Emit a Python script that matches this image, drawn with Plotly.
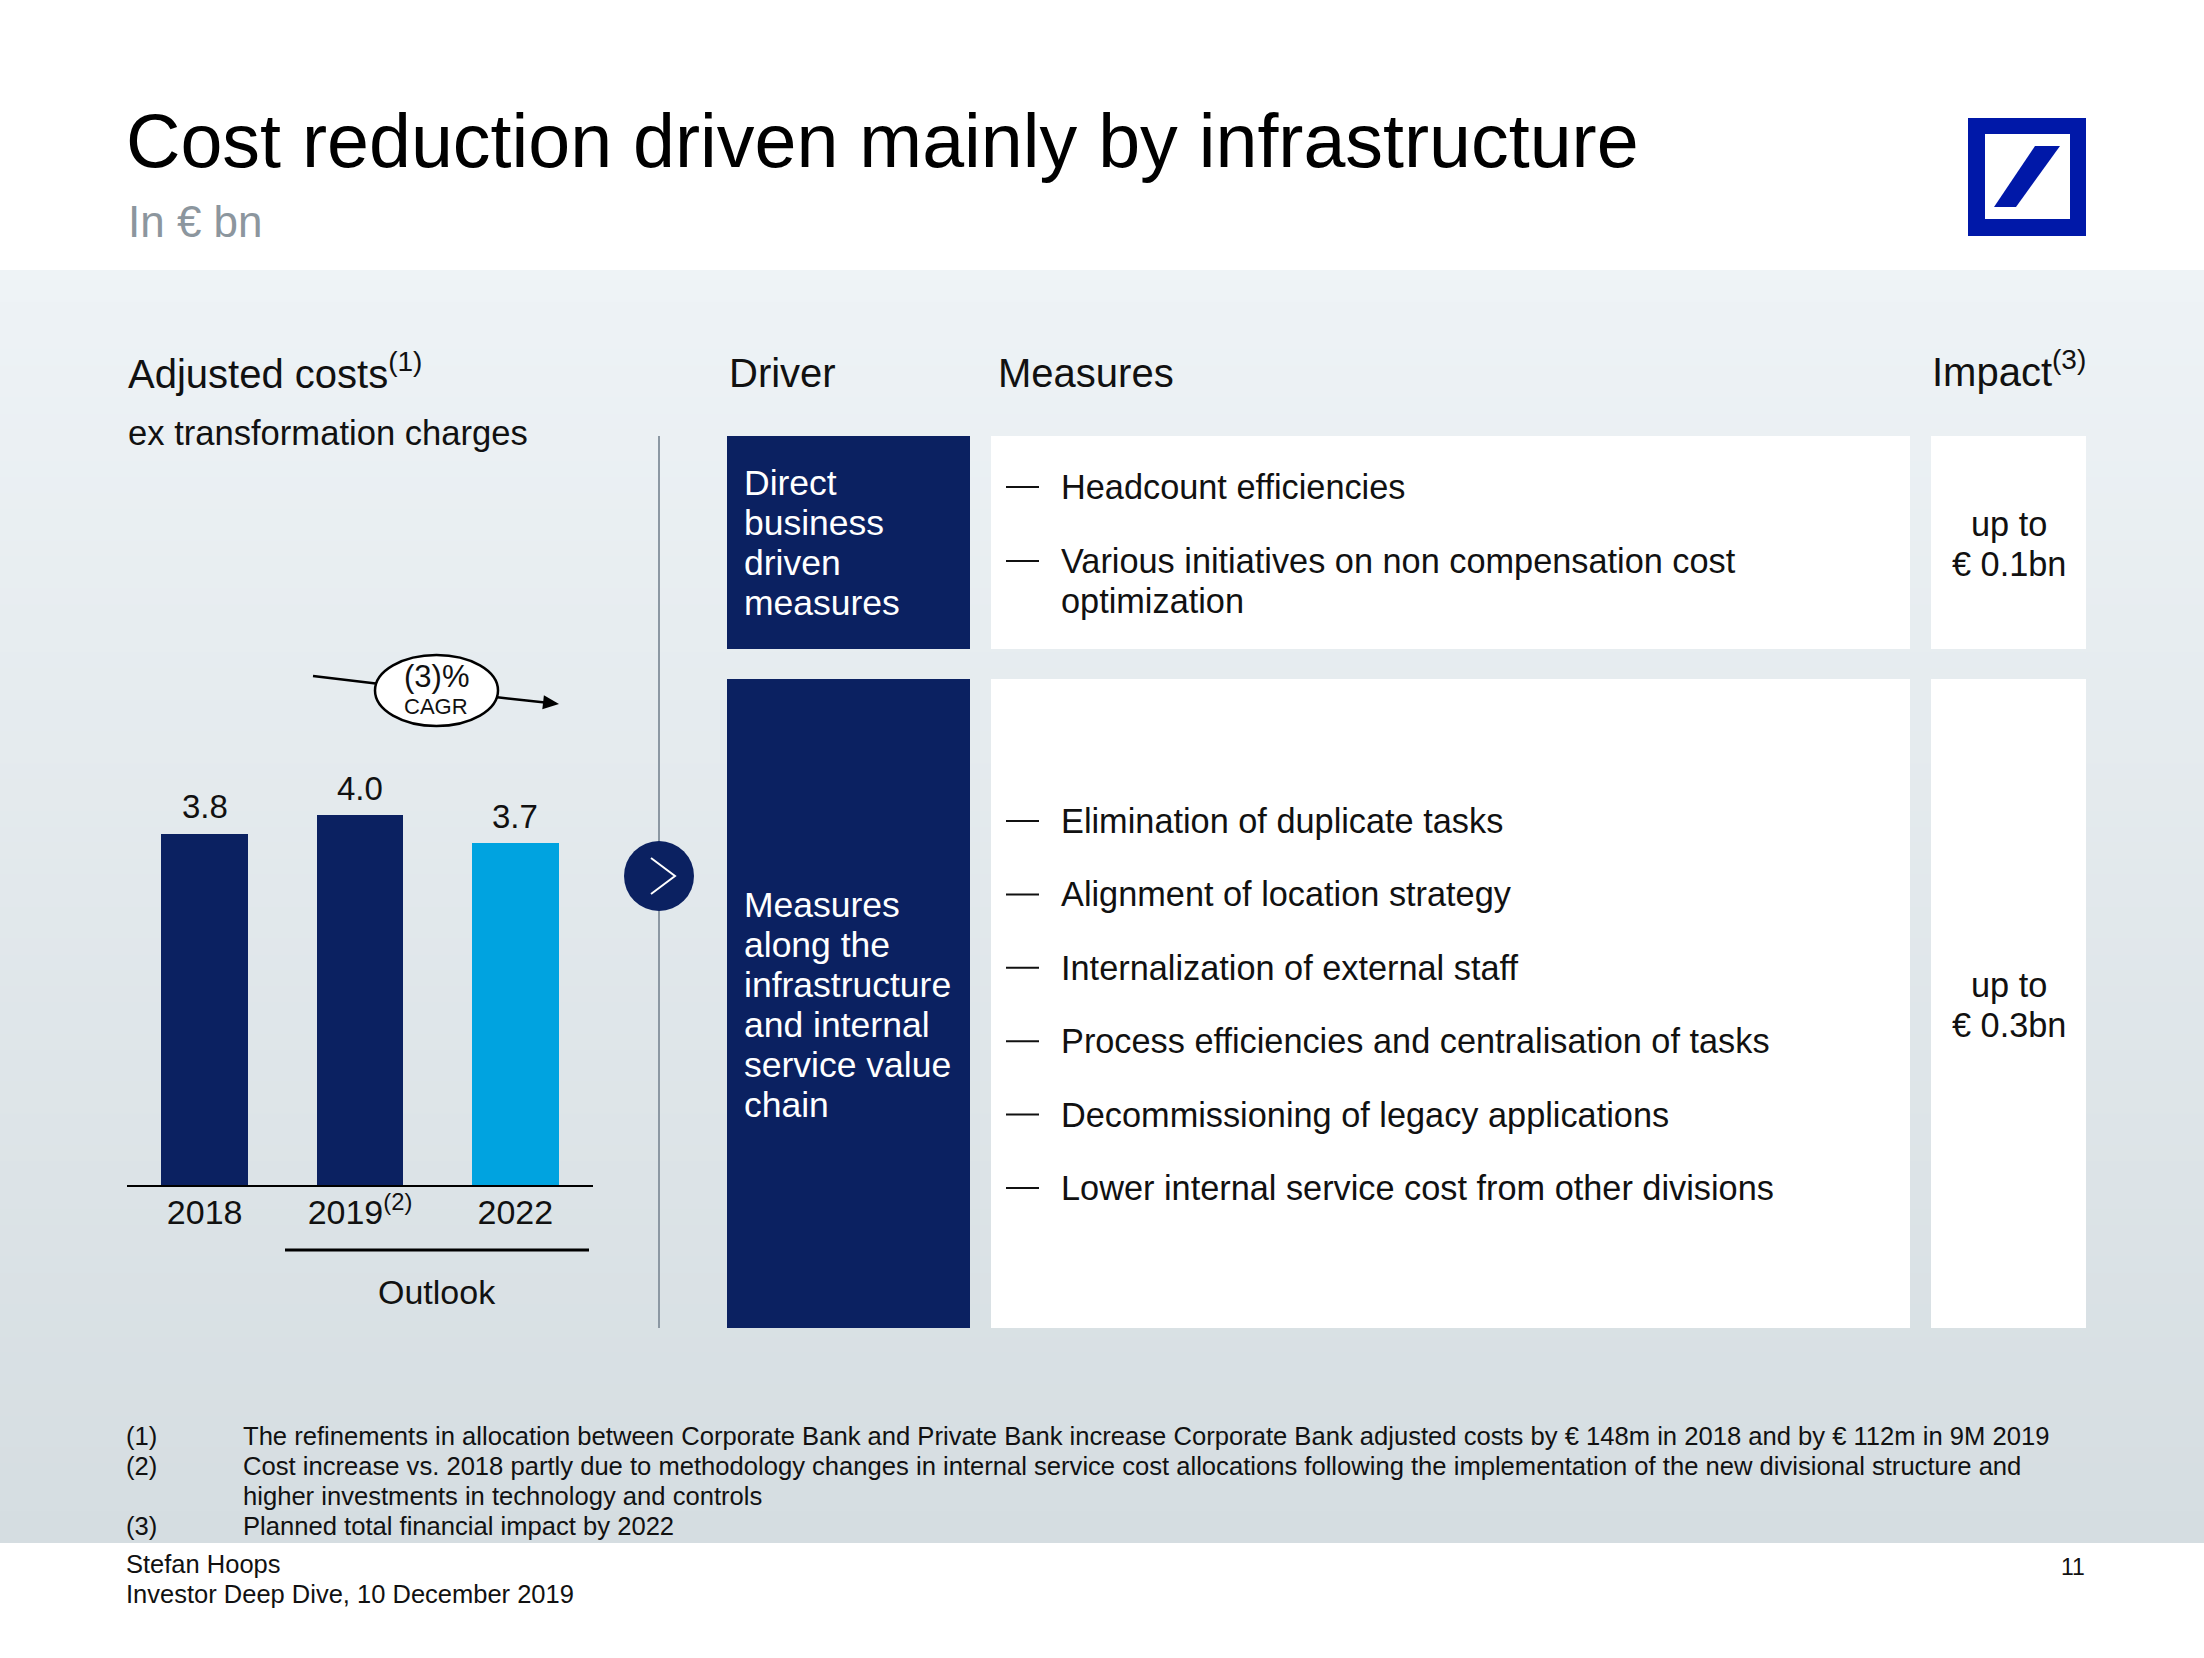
import plotly.graph_objects as go

# ---------------- data ----------------
years = ["2018", "2019", "2022"]
tick_labels = ["2018", "2019<sup>(2)</sup>", "2022"]
adjusted_costs = [3.8, 4.0, 3.7]
value_labels = ["3.8", "4.0", "3.7"]
cagr_label = "(3)%"

drivers = [
    ["Direct", "business", "driven", "measures"],
    ["Measures", "along the", "infrastructure", "and internal", "service value", "chain"],
]
measures_1 = [["Headcount efficiencies"],
              ["Various initiatives on non compensation cost", "optimization"]]
measures_2 = ["Elimination of duplicate tasks",
              "Alignment of location strategy",
              "Internalization of external staff",
              "Process efficiencies and centralisation of tasks",
              "Decommissioning of legacy applications",
              "Lower internal service cost from other divisions"]
impacts = [["up to", "€ 0.1bn"], ["up to", "€ 0.3bn"]]

footnote_ids = ["(1)", "(2)", "", "(3)"]
footnote_texts = [
    "The refinements in allocation between Corporate Bank and Private Bank increase Corporate Bank adjusted costs by € 148m in 2018 and by € 112m in 9M 2019",
    "Cost increase vs. 2018 partly due to methodology changes in internal service cost allocations following the implementation of the new divisional structure and",
    "higher investments in technology and controls",
    "Planned total financial impact by 2022",
]

# ---------------- layout helpers ----------------
W, H = 2204, 1658
FONT = "Liberation Sans, Arial, sans-serif"
NAVY = "#0b2161"
LIGHT = "#00a3e0"
DB_BLUE = "#0018a8"


def X(px):
    return px / W


def Y(py):
    return 1 - py / H


annotations = []
shapes = []


def text(x, y, s, size=34, color="#111111", xanchor="left", yanchor="middle"):
    annotations.append(dict(x=X(x), y=Y(y), xref="paper", yref="paper", text=s,
                            showarrow=False, xanchor=xanchor, yanchor=yanchor,
                            font=dict(family=FONT, size=size, color=color)))


def rect(x0, y0, x1, y1, color, layer="below", line_color=None):
    shapes.append(dict(type="rect", xref="paper", yref="paper",
                       x0=X(x0), x1=X(x1), y0=Y(y1), y1=Y(y0),
                       fillcolor=color, layer=layer,
                       line=dict(width=0 if line_color is None else 2,
                                 color=line_color or color)))


def line(x0, y0, x1, y1, color="#000000", width=2, layer="below"):
    shapes.append(dict(type="line", xref="paper", yref="paper",
                       x0=X(x0), x1=X(x1), y0=Y(y0), y1=Y(y1), layer=layer,
                       line=dict(color=color, width=width)))


def path(pts, color, layer="below", line_color=None, width=0):
    d = "M " + " L ".join(f"{X(a):.5f},{Y(b):.5f}" for a, b in pts) + " Z"
    shapes.append(dict(type="path", xref="paper", yref="paper", path=d,
                       fillcolor=color, layer=layer,
                       line=dict(width=width, color=line_color or color)))


# ---------------- background gradient ----------------
top_c = (0xee, 0xf3, 0xf6)
bot_c = (0xd5, 0xdd, 0xe1)
y_top, y_bot = 270, 1543
n = 80
for i in range(n):
    t = i / (n - 1)
    c = tuple(round(top_c[k] + (bot_c[k] - top_c[k]) * t) for k in range(3))
    y0 = y_top + (y_bot - y_top) * i / n
    y1 = y_top + (y_bot - y_top) * (i + 1) / n + 1
    rect(0, y0, W, min(y1, y_bot), "rgb(%d,%d,%d)" % c)

# ---------------- logo ----------------
rect(1968, 118, 2086, 236, DB_BLUE)
rect(1985, 134, 2070, 219, "#ffffff")
path([(2035, 146), (2060, 146), (2016, 207), (1994, 207)], DB_BLUE)

# ---------------- title ----------------
text(124, 141, "Cost reduction driven mainly by infrastructure", size=75.4, color="#000000")
text(126, 221, "In € bn", size=44, color="#8c969e")

# ---------------- left panel ----------------
text(126, 371, "Adjusted costs<sup>(1)</sup>", size=40)
text(126, 433, "ex transformation charges", size=34.6)

# Outlook bracket
line(285, 1250, 589, 1250, width=3)
text(437, 1292, "Outlook", size=34, xanchor="center")

# CAGR arrow + ellipse
line(313, 676, 380, 684, width=2.5)
line(495, 697, 545, 702.5, width=2.5)
path([(559, 704), (543.9, 695.2), (542.3, 709.2)], "#000000")
shapes.append(dict(type="circle", xref="paper", yref="paper",
                   x0=X(375), x1=X(498), y0=Y(726), y1=Y(655),
                   fillcolor="#ffffff", layer="below",
                   line=dict(color="#000000", width=2.5)))
text(436, 676, cagr_label, size=31, xanchor="center")
text(436, 706, "CAGR", size=22, xanchor="center")

# separator and chevron circle
line(659, 436, 659, 1328, color="#8c98a3", width=2)
shapes.append(dict(type="circle", xref="paper", yref="paper",
                   x0=X(624), x1=X(694), y0=Y(911), y1=Y(841),
                   fillcolor=NAVY, layer="below", line=dict(width=0)))
shapes.append(dict(type="path", xref="paper", yref="paper",
                   path=f"M {X(651):.5f},{Y(858):.5f} L {X(675):.5f},{Y(876):.5f} L {X(651):.5f},{Y(894):.5f}",
                   layer="above", line=dict(color="#ffffff", width=2)))

# ---------------- right panel ----------------
text(727, 373, "Driver", size=40)
text(996, 373, "Measures", size=40)
text(2088, 369, "Impact<sup>(3)</sup>", size=40, xanchor="right")

# boxes
rect(727, 436, 970, 649, NAVY)
rect(727, 679, 970, 1328, NAVY)
rect(991, 436, 1910, 649, "#ffffff")
rect(991, 679, 1910, 1328, "#ffffff")
rect(1931, 436, 2086, 649, "#ffffff")
rect(1931, 679, 2086, 1328, "#ffffff")

# driver texts
for lines_, y0 in zip(drivers, [483, 905]):
    for k, s in enumerate(lines_):
        text(742, y0 + 40 * k, s, size=35.5, color="#ffffff")

# measures box 1
y_pos = [487, 561]
for item, y0 in zip(measures_1, y_pos):
    line(1006, y0, 1039, y0, color="#111111", width=2)
    for k, s in enumerate(item):
        text(1059, y0 + 40 * k, s, size=34.3)

# measures box 2
for k, s in enumerate(measures_2):
    y0 = 821 + 73.4 * k
    line(1006, y0, 1039, y0, color="#111111", width=2)
    text(1059, y0, s, size=34.3)

# impacts
for imp, y0 in zip(impacts, [524, 985]):
    for k, s in enumerate(imp):
        text(2009, y0 + 40 * k, s, size=34.3, xanchor="center")

# ---------------- footnotes / footer ----------------
for k, (fid, ftxt) in enumerate(zip(footnote_ids, footnote_texts)):
    y0 = 1436 + 30 * k
    if fid:
        text(124, y0, fid, size=25.6)
    text(241, y0, ftxt, size=25.6)

text(124, 1564, "Stefan Hoops", size=25.5)
text(124, 1594, "Investor Deep Dive, 10 December 2019", size=25.5)
text(2087, 1567, "11", size=23, xanchor="right")

# bar value labels, positioned through the data axes (category index)
for i, (v, lab) in enumerate(zip(adjusted_costs, value_labels)):
    annotations.append(dict(x=i, y=v, xref="x", yref="y", text=lab,
                            showarrow=False, xanchor="center", yanchor="middle",
                            yshift=27,
                            font=dict(family=FONT, size=33, color="#111111")))

# ---------------- bar chart ----------------
fig = go.Figure()
fig.add_trace(go.Bar(
    x=years, y=adjusted_costs,
    marker=dict(color=[NAVY, NAVY, LIGHT], line=dict(width=0)),
    width=0.557,
    cliponaxis=False, hoverinfo="skip",
))

px_per_unit = 92.4
y_base = 1185
y_dom_top = 700

fig.update_layout(
    width=W, height=H,
    margin=dict(l=0, r=0, t=0, b=0),
    paper_bgcolor="#ffffff",
    plot_bgcolor="rgba(0,0,0,0)",
    showlegend=False,
    bargap=0,
    xaxis=dict(domain=[X(127), X(593)], type="category",
               range=[-0.5, 2.5], tickvals=years, ticktext=tick_labels,
               showline=True, linecolor="#000000", linewidth=2,
               showgrid=False, zeroline=False, ticks="", ticklen=0,
               ticklabelstandoff=-4,
               tickfont=dict(family=FONT, size=34, color="#111111"),
               fixedrange=True),
    yaxis=dict(domain=[Y(y_base), Y(y_dom_top)],
               range=[0, (y_base - y_dom_top) / px_per_unit],
               visible=False, showgrid=False, zeroline=False, fixedrange=True),
    annotations=annotations,
    shapes=shapes,
    font=dict(family=FONT),
)

fig.write_html(
    "out.html",
    config={"displayModeBar": False},
    post_script="document.body.style.margin='0';document.body.style.overflow='hidden';",
)
